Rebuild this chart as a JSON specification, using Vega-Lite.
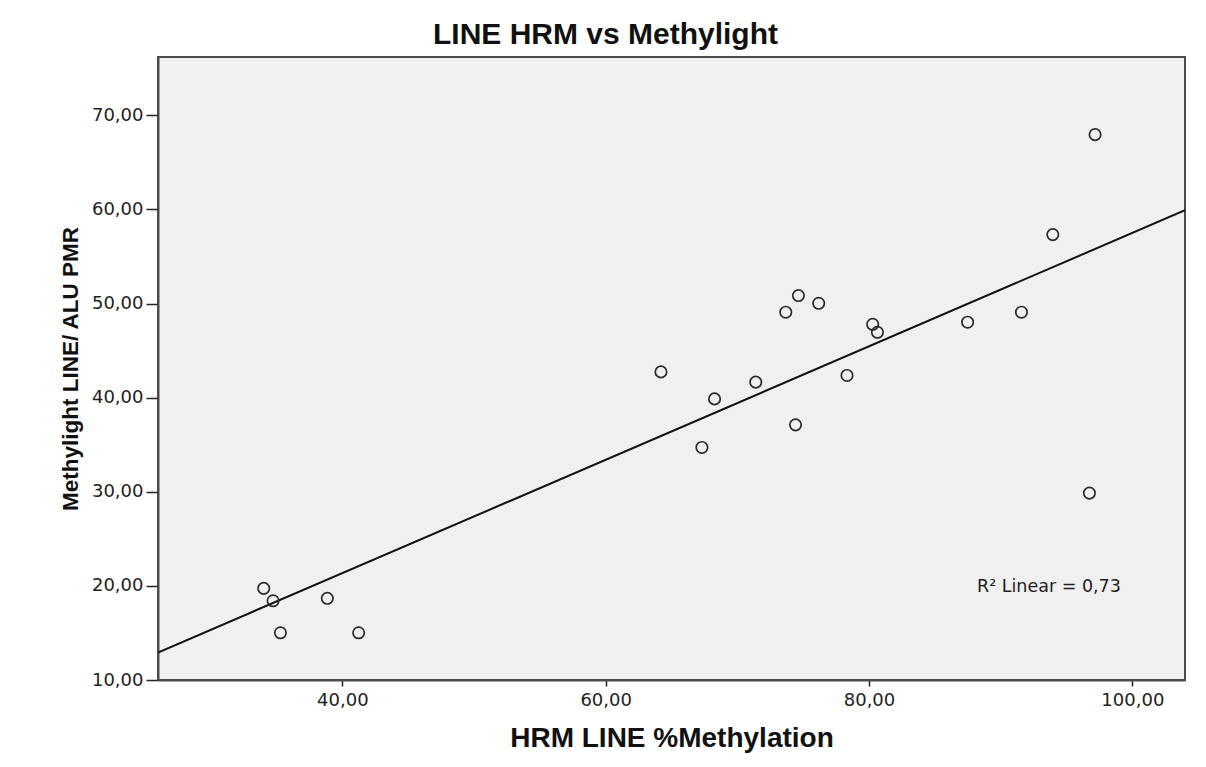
{
  "$schema": "https://vega.github.io/schema/vega-lite/v6.json",
  "width": 1027,
  "height": 623,
  "autosize": {"type": "none"},
  "padding": {"left": 158, "top": 57, "right": 21, "bottom": 87},
  "background": "white",
  "config": {
    "locale": {"number": {"decimal": ",", "thousands": ".", "grouping": [3], "currency": ["", " €"]}},
    "view": {"fill": "#f0f0f0", "stroke": "#4a4a4a", "strokeWidth": 2},
    "axis": {
      "grid": false,
      "domainColor": "#4a4a4a",
      "domainWidth": 2,
      "tickColor": "#222222",
      "tickWidth": 1.5,
      "labelFont": "DejaVu Sans",
      "labelFontSize": 18,
      "labelColor": "#1e1e1e",
      "titleColor": "#111111",
      "titleFontWeight": "bold"
    }
  },
  "title": {
    "text": "LINE HRM vs Methylight",
    "font": "Liberation Sans",
    "fontSize": 30,
    "fontWeight": "bold",
    "color": "#111111",
    "anchor": "middle",
    "dx": -66,
    "offset": 7
  },
  "datasets": {
    "samples": [
      {"hrm": 34.03, "pmr": 19.74},
      {"hrm": 34.74, "pmr": 18.42},
      {"hrm": 35.30, "pmr": 15.02},
      {"hrm": 38.86, "pmr": 18.68},
      {"hrm": 41.24, "pmr": 15.02},
      {"hrm": 64.20, "pmr": 42.74},
      {"hrm": 67.31, "pmr": 34.71},
      {"hrm": 68.27, "pmr": 39.87},
      {"hrm": 71.40, "pmr": 41.65},
      {"hrm": 73.68, "pmr": 49.08},
      {"hrm": 74.64, "pmr": 50.85},
      {"hrm": 76.18, "pmr": 50.03},
      {"hrm": 74.42, "pmr": 37.11},
      {"hrm": 78.33, "pmr": 42.36},
      {"hrm": 80.28, "pmr": 47.80},
      {"hrm": 80.64, "pmr": 46.95},
      {"hrm": 87.49, "pmr": 48.02},
      {"hrm": 91.58, "pmr": 49.08},
      {"hrm": 93.96, "pmr": 57.33},
      {"hrm": 97.17, "pmr": 67.95},
      {"hrm": 96.74, "pmr": 29.86}
    ],
    "fitNote": [
      {"hrm": 88.2, "pmr": 19.9, "label": "R² Linear = 0,73"}
    ]
  },
  "encoding": {
    "x": {
      "field": "hrm",
      "type": "quantitative",
      "scale": {"domain": [26, 104], "nice": false, "zero": false},
      "axis": {
        "values": [40, 60, 80, 100],
        "format": ".2f",
        "title": "HRM LINE %Methylation",
        "titleFont": "Liberation Sans",
        "titleFontSize": 28,
        "titlePadding": 15,
        "tickSize": 6,
        "labelPadding": 5
      }
    },
    "y": {
      "field": "pmr",
      "type": "quantitative",
      "scale": {"domain": [10, 76.2], "nice": false, "zero": false},
      "axis": {
        "values": [10, 20, 30, 40, 50, 60, 70],
        "format": ".2f",
        "title": "Methylight LINE/ ALU PMR",
        "titleFont": "Liberation Sans",
        "titleFontSize": 22.5,
        "titlePadding": 9,
        "tickSize": 12,
        "labelPadding": 3
      }
    }
  },
  "layer": [
    {
      "data": {"name": "samples"},
      "transform": [{"regression": "pmr", "on": "hrm", "extent": [26, 104]}],
      "mark": {"type": "line", "color": "#111111", "strokeWidth": 2, "clip": true}
    },
    {
      "data": {"name": "samples"},
      "mark": {"type": "point", "shape": "circle", "filled": false, "size": 130, "stroke": "#2a2a2a", "strokeWidth": 1.7, "opacity": 1}
    },
    {
      "data": {"name": "fitNote"},
      "mark": {"type": "text", "align": "left", "baseline": "middle", "font": "DejaVu Sans", "fontSize": 17.5, "color": "#1e1e1e"},
      "encoding": {"text": {"field": "label"}}
    }
  ]
}
